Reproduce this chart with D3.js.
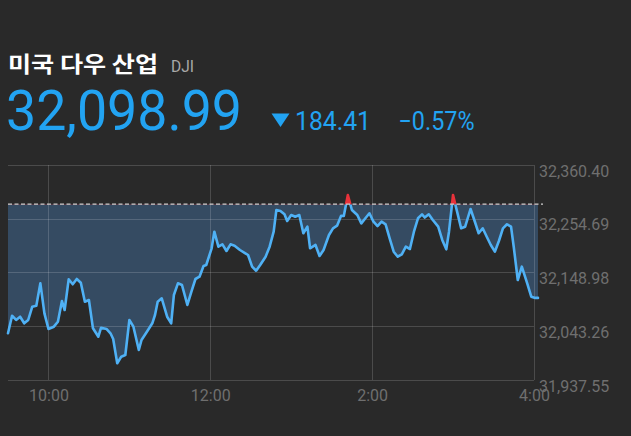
<!DOCTYPE html>
<html>
<head>
<meta charset="utf-8">
<script src="https://cdn.jsdelivr.net/npm/d3@7"></script>
<style>
  html, body { margin: 0; padding: 0; background: #292929; }
  svg { display: block; }
</style>
</head>
<body>
<svg id="chart" width="631" height="436"></svg>
<script>
// ---- data ----
const title = "미국 다우 산업";
const symbol = "DJI";
const lastPrice = 32098.99;
const change = -184.41;
const changePct = -0.57;
const prevClose = 32283.40;

const times = [
  "09:30","09:33","09:36","09:39","09:42","09:45","09:48","09:51","09:54","09:57",
  "10:00","10:04","10:07","10:10","10:12","10:15","10:18","10:21","10:24","10:27",
  "10:30","10:33","10:37","10:39","10:43","10:46","10:48","10:51","10:54","10:57",
  "11:00","11:03","11:07","11:09","11:13","11:17","11:19","11:21","11:24","11:28",
  "11:31","11:33","11:36","11:39","11:43","11:46","11:49","11:52","11:55","11:57",
  "12:01","12:03","12:06","12:09","12:12","12:15","12:18","12:22","12:26","12:28",
  "12:31","12:34","12:37","12:41","12:44","12:47","12:49","12:52","12:55","12:57",
  "13:00","13:03","13:06","13:09","13:12","13:14","13:18","13:21","13:24","13:28",
  "13:31","13:34","13:37","13:39","13:42","13:45","13:49","13:52","13:55","13:58",
  "14:01","14:04","14:07","14:10","14:13","14:16","14:19","14:22","14:25","14:28",
  "14:31","14:34","14:37","14:39","14:42","14:45","14:49","14:52","14:55","14:57",
  "15:00","15:03","15:06","15:09","15:13","15:16","15:19","15:22","15:25","15:28",
  "15:31","15:34","15:37","15:40","15:43","15:45","15:48","15:51","15:55","15:58",
  "16:01","16:03"
];
const values = [
  32029.4, 32064.0, 32055.6, 32062.0, 32049.1, 32055.6, 32081.7, 32083.7, 32127.7, 32068.7,
  32037.9, 32042.4, 32052.2, 32092.9, 32075.2, 32135.6, 32125.8, 32136.2, 32128.9, 32091.5,
  32094.9, 32039.2, 32022.7, 32040.4, 32037.9, 32029.4, 32018.2, 31970.4, 31983.4, 31986.7,
  32055.6, 32042.4, 31996.6, 32016.2, 32032.5, 32049.1, 32065.4, 32091.5, 32098.2, 32062.0,
  32049.1, 32104.7, 32127.7, 32124.4, 32085.1, 32111.2, 32136.2, 32140.7, 32161.8, 32163.7,
  32196.6, 32229.2, 32199.7, 32204.4, 32191.3, 32204.4, 32201.7, 32193.2, 32186.7, 32183.4,
  32160.4, 32152.5, 32163.7, 32180.0, 32199.7, 32229.2, 32271.9, 32269.9, 32263.4, 32250.3,
  32262.1, 32258.7, 32262.1, 32226.1, 32239.1, 32196.6, 32203.1, 32181.4, 32193.2, 32222.7,
  32235.9, 32241.0, 32260.7, 32260.1, 32301.4, 32271.9, 32262.1, 32245.7, 32255.6, 32265.4,
  32248.9, 32240.4, 32248.9, 32243.8, 32216.2, 32189.9, 32180.0, 32184.8, 32199.7, 32195.2,
  32229.2, 32255.6, 32263.4, 32257.1, 32263.4, 32252.2, 32239.1, 32212.9, 32194.6, 32229.2,
  32301.4, 32268.6, 32235.9, 32239.1, 32273.9, 32250.3, 32226.1, 32235.9, 32219.4, 32203.1,
  32189.9, 32210.9, 32235.9, 32243.8, 32239.1, 32199.7, 32134.2, 32160.4, 32127.7, 32101.4,
  32099.0, 32098.99
];
const xTickTimes = ["10:00","12:00","14:00","16:00"];
const xTickLabels = ["10:00","12:00","2:00","4:00"];
const yTicks = [32360.40, 32254.69, 32148.98, 32043.26, 31937.55];

// ---- setup ----
const parseT = d3.timeParse("%H:%M");
const data = times.map((t, i) => ({ t: parseT(t), v: values[i] }));

const svg = d3.select("#chart");
const x = d3.scaleTime().domain([parseT("09:30"), parseT("16:03")]).range([8, 538]);
const y = d3.scaleLinear().domain([yTicks[yTicks.length - 1], yTicks[0]]).range([380, 165]);
const gridRight = x(parseT("16:00"));

const blue = "#22a3f2";
const red = "#e8323a";
const gray = "#6f6f6f";

// ---- header ----
svg.append("text")
  .attr("x", 8).attr("y", 72)
  .attr("font-family", "'Noto Sans CJK KR', sans-serif")
  .attr("font-weight", 700).attr("font-size", 22)
  .attr("fill", "#ffffff")
  .attr("textLength", 150).attr("lengthAdjust", "spacingAndGlyphs")
  .text(title);

svg.append("text")
  .attr("x", 171).attr("y", 72)
  .attr("font-family", "Roboto, sans-serif")
  .attr("font-size", 17).attr("fill", "#a8a8a8")
  .attr("textLength", 23).attr("lengthAdjust", "spacingAndGlyphs")
  .text(symbol);

svg.append("text")
  .attr("x", 6).attr("y", 130)
  .attr("font-family", "Roboto, sans-serif")
  .attr("font-size", 56).attr("fill", blue)
  .attr("textLength", 236).attr("lengthAdjust", "spacingAndGlyphs")
  .text(d3.format(",.2f")(lastPrice));

svg.append("path")
  .attr("d", "M271.5,113.5 L289.5,113.5 L280.5,127 Z")
  .attr("fill", blue);

svg.append("text")
  .attr("x", 295).attr("y", 130)
  .attr("font-family", "Roboto, sans-serif")
  .attr("font-size", 26).attr("fill", blue)
  .attr("textLength", 76).attr("lengthAdjust", "spacingAndGlyphs")
  .text(d3.format(".2f")(Math.abs(change)));

svg.append("text")
  .attr("x", 398.5).attr("y", 130)
  .attr("font-family", "Roboto, sans-serif")
  .attr("font-size", 26).attr("fill", blue)
  .attr("textLength", 76).attr("lengthAdjust", "spacingAndGlyphs")
  .text(d3.format(".2f")(changePct) + "%");

// ---- area fills (between line and previous close) ----
const yBase = y(prevClose);
const defs = svg.append("defs");
defs.append("clipPath").attr("id", "clipBelow")
  .append("rect").attr("x", 0).attr("y", yBase).attr("width", 631).attr("height", 436);
defs.append("clipPath").attr("id", "clipAbove")
  .append("rect").attr("x", 0).attr("y", 0).attr("width", 631).attr("height", yBase);

const area = d3.area().x(d => x(d.t)).y0(yBase).y1(d => y(d.v));
svg.append("path").datum(data).attr("d", area)
  .attr("fill", "#354b62").attr("clip-path", "url(#clipBelow)");
svg.append("path").datum(data).attr("d", area)
  .attr("fill", red).attr("clip-path", "url(#clipAbove)");

// ---- grid ----
const grid = svg.append("g");
grid.selectAll("line.h").data(yTicks).join("line")
  .attr("x1", 8).attr("x2", gridRight)
  .attr("y1", d => Math.round(y(d)) + 0.5).attr("y2", d => Math.round(y(d)) + 0.5)
  .attr("stroke", "rgba(255,255,255,0.16)").attr("stroke-width", 1);
grid.selectAll("line.v").data(xTickTimes).join("line")
  .attr("x1", d => Math.round(x(parseT(d))) + 0.5).attr("x2", d => Math.round(x(parseT(d))) + 0.5)
  .attr("y1", y(yTicks[0])).attr("y2", y(yTicks[yTicks.length - 1]))
  .attr("stroke", "rgba(255,255,255,0.16)").attr("stroke-width", 1);

// ---- line (blue below previous close, red above) ----
const line = d3.line().x(d => x(d.t)).y(d => y(d.v));
svg.append("path").datum(data).attr("d", line)
  .attr("fill", "none").attr("stroke", "#4fb1f5")
  .attr("stroke-width", 2.6).attr("stroke-linejoin", "round").attr("stroke-linecap", "round")
  .attr("clip-path", "url(#clipBelow)");
svg.append("path").datum(data).attr("d", line)
  .attr("fill", "none").attr("stroke", red)
  .attr("stroke-width", 2.6).attr("stroke-linejoin", "round").attr("stroke-linecap", "round")
  .attr("clip-path", "url(#clipAbove)");

// ---- previous close dashed ----
svg.append("line")
  .attr("x1", 8).attr("x2", 543)
  .attr("y1", yBase).attr("y2", yBase)
  .attr("stroke", "#cfcfcf").attr("stroke-width", 1.4)
  .attr("stroke-dasharray", "4,2.5");

// ---- axis labels ----
svg.selectAll("text.ylab").data(yTicks).join("text")
  .attr("class", "ylab")
  .attr("x", 539).attr("y", d => y(d) + 11.5)
  .attr("font-family", "Roboto, sans-serif").attr("font-size", 16)
  .attr("fill", gray)
  .text(d => d3.format(",.2f")(d));

svg.selectAll("text.xlab").data(xTickTimes).join("text")
  .attr("class", "xlab")
  .attr("x", d => x(parseT(d)) + 0.5).attr("y", 401)
  .attr("text-anchor", "middle")
  .attr("font-family", "Roboto, sans-serif").attr("font-size", 16)
  .attr("fill", gray)
  .text((d, i) => xTickLabels[i]);
</script>
</body>
</html>
